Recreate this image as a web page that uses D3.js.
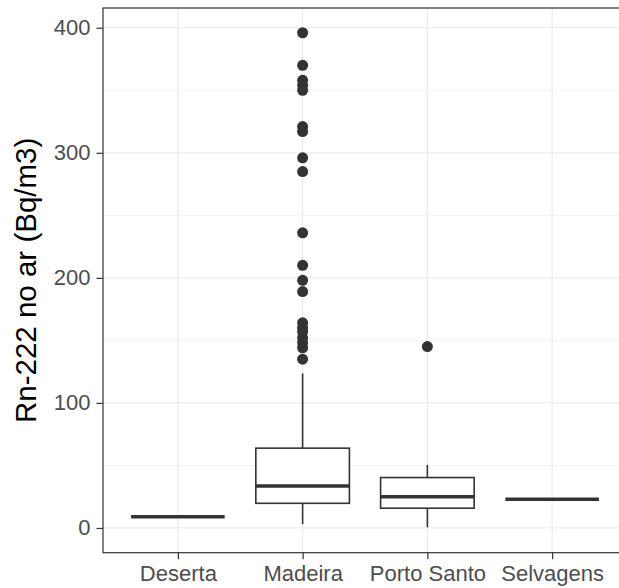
<!DOCTYPE html>
<html>
<head>
<meta charset="utf-8">
<script src="https://cdn.jsdelivr.net/npm/d3@7"></script>
<style>
  body { margin: 0; background: #fff; }
  svg { display: block; font-family: "Liberation Sans", Arial, sans-serif; }
</style>
</head>
<body>
<div id="chart"></div>
<script>
// categories and box statistics (Bq/m3)
const islands = ["Deserta", "Madeira", "Porto Santo", "Selvagens"];
const lowWhisker = [9, 3, 0.5, 23];
const q1 = [9, 19.7, 15.8, 23];
const median = [9, 33.6, 25, 23];
const q3 = [9, 63.8, 40.3, 23];
const highWhisker = [9, 123.5, 50.4, 23];
const outliers = [
  [],
  [396, 370, 358, 354, 350, 321, 317, 296, 285, 236, 210, 198, 189, 164, 160, 157, 152, 148, 144, 135],
  [145],
  []
];
const yTicks = [0, 100, 200, 300, 400];
const yMinor = [50, 150, 250, 350];

const W = 619, H = 588;
const margin = { top: 8, right: -8, bottom: 35.3, left: 103 };
const iw = W - margin.left - margin.right;
const ih = H - margin.top - margin.bottom;

const svg = d3.select("#chart").append("svg")
  .attr("width", W).attr("height", H);

const g = svg.append("g").attr("transform", `translate(${margin.left},${margin.top})`);

// discrete x scale, ggplot-style expansion of 0.6 units each side
const x = d3.scalePoint()
  .domain(islands)
  .range([0, iw])
  .padding(0.6);
const step = x.step();
const boxW = step * 0.75;

const yMax = 396;
const y = d3.scaleLinear()
  .domain([-yMax * 0.05, yMax * 1.05])
  .range([ih, 0]);

// grid
g.selectAll(".minor").data(yMinor).enter().append("line")
  .attr("x1", 0).attr("x2", iw)
  .attr("y1", d => y(d)).attr("y2", d => y(d))
  .attr("stroke", "#ebebeb").attr("stroke-width", 0.6);
g.selectAll(".major").data(yTicks).enter().append("line")
  .attr("x1", 0).attr("x2", iw)
  .attr("y1", d => y(d)).attr("y2", d => y(d))
  .attr("stroke", "#ebebeb").attr("stroke-width", 1.2);
g.selectAll(".vgrid").data(islands).enter().append("line")
  .attr("x1", d => x(d)).attr("x2", d => x(d))
  .attr("y1", 0).attr("y2", ih)
  .attr("stroke", "#ebebeb").attr("stroke-width", 1.2);

// boxes
const boxes = g.selectAll(".box").data(islands).enter().append("g");

boxes.append("line")
  .attr("x1", d => x(d)).attr("x2", d => x(d))
  .attr("y1", (d, i) => y(q3[i])).attr("y2", (d, i) => y(highWhisker[i]))
  .attr("stroke", "#333").attr("stroke-width", 1.6);
boxes.append("line")
  .attr("x1", d => x(d)).attr("x2", d => x(d))
  .attr("y1", (d, i) => y(q1[i])).attr("y2", (d, i) => y(lowWhisker[i]))
  .attr("stroke", "#333").attr("stroke-width", 1.6);
boxes.append("rect")
  .attr("x", d => x(d) - boxW / 2)
  .attr("width", boxW)
  .attr("y", (d, i) => y(q3[i]))
  .attr("height", (d, i) => y(q1[i]) - y(q3[i]))
  .attr("fill", "#fff").attr("stroke", "#333").attr("stroke-width", 1.6);
boxes.append("line")
  .attr("x1", d => x(d) - boxW / 2).attr("x2", d => x(d) + boxW / 2)
  .attr("y1", (d, i) => y(median[i])).attr("y2", (d, i) => y(median[i]))
  .attr("stroke", "#333").attr("stroke-width", 3.6);

// outliers
islands.forEach((isl, i) => {
  g.selectAll(".out" + i).data(outliers[i]).enter().append("circle")
    .attr("cx", x(isl))
    .attr("cy", d => y(d))
    .attr("r", 5.5)
    .attr("fill", "#333");
});

// panel border
g.append("rect")
  .attr("width", iw).attr("height", ih)
  .attr("fill", "none").attr("stroke", "#333").attr("stroke-width", 1.2);

// axes
const yAxis = g.append("g")
  .call(d3.axisLeft(y).tickValues(yTicks).tickSize(6.5).tickPadding(6));
const xAxis = g.append("g")
  .attr("transform", `translate(0,${ih})`)
  .call(d3.axisBottom(x).tickSize(6.5).tickPadding(6));

[yAxis, xAxis].forEach(a => {
  a.select(".domain").remove();
  a.selectAll(".tick line").attr("stroke", "#333").attr("stroke-width", 1.2);
  a.selectAll(".tick text")
    .attr("fill", "#4d4d4d")
    .style("font-size", "22px")
    .style("font-family", "'Liberation Sans', Arial, sans-serif");
});

svg.append("text")
  .attr("transform", `translate(36,${margin.top + ih / 2}) rotate(-90)`)
  .attr("text-anchor", "middle")
  .style("font-size", "29.5px")
  .attr("fill", "#000")
  .text("Rn-222 no ar (Bq/m3)");
</script>
</body>
</html>
